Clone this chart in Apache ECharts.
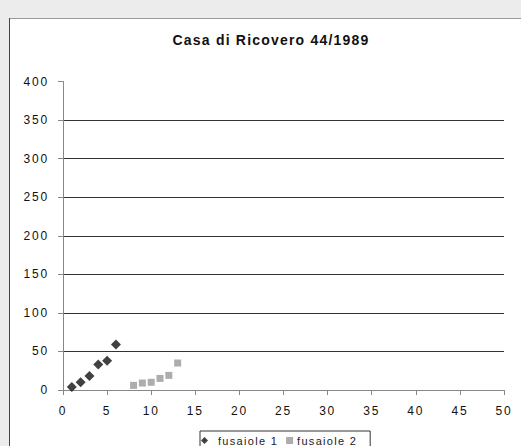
<!DOCTYPE html>
<html>
<head>
<meta charset="utf-8">
<script src="https://cdn.jsdelivr.net/npm/echarts@6/dist/echarts.min.js"></script>
<style>
  html, body { margin: 0; padding: 0; background: #ececec; }
  #chart { width: 521px; height: 446px; }
  /* spaced-out lettering of the labels */
  #chart svg text { letter-spacing: 1.8px; }
  #chart svg text[style*="11px"] { letter-spacing: 1.3px; }
  #chart svg text[style*="bold"] { letter-spacing: 1.2px; }
</style>
</head>
<body>
<div id="chart"></div>
<script>
// Spindle-whorl counts, Casa di Ricovero 44/1989
const seriesNames = ['fusaiole 1', 'fusaiole 2'];
const fusaiole1X = [1, 2, 3, 4, 5, 6];
const fusaiole1Y = [4, 10, 18, 33, 38, 59];
const fusaiole2X = [8, 9, 10, 11, 12, 13];
const fusaiole2Y = [6, 9, 10, 15, 19, 35];
const xTicks = [0, 5, 10, 15, 20, 25, 30, 35, 40, 45, 50];
const yTicks = [0, 50, 100, 150, 200, 250, 300, 350, 400];

const pairs = (xs, ys) => xs.map((x, i) => [x, ys[i]]);

const chart = echarts.init(document.getElementById('chart'), null, { renderer: 'svg' });
const font = 'Liberation Sans, Arial, sans-serif';

chart.setOption({
  animation: false,
  backgroundColor: '#ececec',
  graphic: [
    {
      type: 'rect', z: -10, silent: true,
      shape: { x: 9.5, y: 18.5, width: 600, height: 500 },
      style: { fill: '#ffffff', stroke: null }
    },
    {
      type: 'line', z: -9, silent: true,
      shape: { x1: 9, y1: 18.5, x2: 521, y2: 18.5 },
      style: { stroke: '#9a9a9a', lineWidth: 1 }
    },
    {
      type: 'line', z: -9, silent: true,
      shape: { x1: 9.5, y1: 18, x2: 9.5, y2: 446 },
      style: { stroke: '#444444', lineWidth: 1 }
    }
  ],
  title: {
    text: 'Casa di Ricovero 44/1989',
    left: 266, top: 27.5, textAlign: 'center',
    textStyle: { fontFamily: font, fontSize: 14, fontWeight: 'bold', color: '#111' }
  },
  grid: { left: 63, right: 17, top: 81.5, bottom: 56, containLabel: false },
  xAxis: {
    type: 'value', min: xTicks[0], max: xTicks[xTicks.length - 1], interval: 5,
    axisLine: { lineStyle: { color: '#888', width: 1 } },
    axisTick: { show: true, length: 5, lineStyle: { color: '#888' } },
    axisLabel: { margin: 15, fontFamily: font, fontSize: 12, color: '#111' },
    splitLine: { show: false }
  },
  yAxis: {
    type: 'value', min: yTicks[0], max: yTicks[yTicks.length - 1], interval: 50,
    axisLine: { show: true, lineStyle: { color: '#888', width: 1 } },
    axisTick: { show: true, length: 5, lineStyle: { color: '#888' } },
    axisLabel: { margin: 14, fontFamily: font, fontSize: 12, color: '#111' },
    splitLine: {
      show: true,
      lineStyle: { color: '#333', width: 1 },
      showMinLine: false, showMaxLine: false
    }
  },
  legend: {
    data: [
      { name: seriesNames[0], textStyle: { padding: [0, 0, 0, 5] } },
      { name: seriesNames[1], textStyle: { padding: [0, 0, 0, -1] } }
    ],
    left: 200, top: 431,
    orient: 'horizontal',
    itemWidth: 7, itemHeight: 7, itemGap: 21,
    padding: [4, 26, 4, 1],
    borderColor: '#333', borderWidth: 1,
    backgroundColor: '#fff',
    textStyle: { fontFamily: font, fontSize: 11, color: '#222' }
  },
  series: [
    {
      name: seriesNames[0], type: 'scatter',
      symbol: 'diamond', symbolSize: 10,
      itemStyle: { color: '#111' },
      data: pairs(fusaiole1X, fusaiole1Y)
    },
    {
      name: seriesNames[1], type: 'scatter',
      symbol: 'rect', symbolSize: 7,
      itemStyle: { color: '#999' },
      data: pairs(fusaiole2X, fusaiole2Y)
    }
  ]
});
</script>
</body>
</html>
